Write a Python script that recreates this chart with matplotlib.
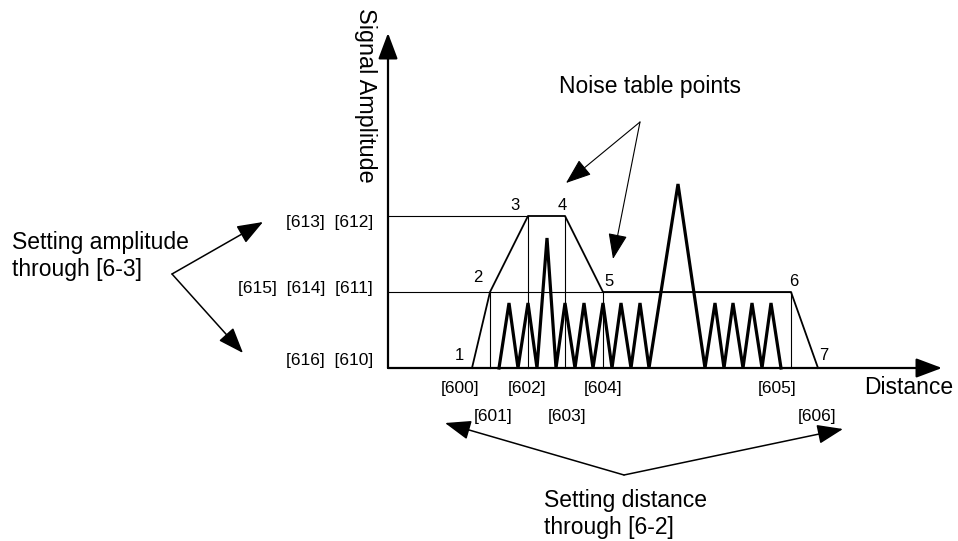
import matplotlib
matplotlib.use('Agg')
import matplotlib.pyplot as plt

plt.rcParams['font.family'] = ['Liberation Sans', 'DejaVu Sans']

# trapezoid (setting points 1..7): distance, amplitude
pt_labels = ['1', '2', '3', '4', '5', '6', '7']
pt_dist = [84, 102, 140, 177, 215, 403, 430]
pt_amp = [0, 76, 152, 152, 76, 76, 0]

# noise signal zigzag
noise_dist = [111, 121, 130, 140, 149, 159, 168, 177, 187, 196, 205, 215, 224, 233,
              243, 252, 261, 290, 317, 327, 336, 345, 355, 364, 374, 383, 393]
noise_amp = [0, 65, 0, 65, 0, 130, 0, 65, 0, 65, 0, 65, 0, 65,
             0, 65, 0, 184, 0, 65, 0, 65, 0, 65, 0, 65, 0]

amp_labels = ['[616]  [610]', '[615]  [614]  [611]', '[613]  [612]']
amp_levels = [0, 76, 152]
dist_labels_top = ['[600]', '[602]', '[604]', '[605]']
dist_top_x = [72, 139, 215, 389]
dist_labels_bot = ['[601]', '[603]', '[606]']
dist_bot_x = [105, 179, 429]

fig = plt.figure(figsize=(9.58, 5.41), dpi=100)
ax = fig.add_axes([0, 0, 1, 1])
ax.set_xlim(-388, 570)
ax.set_ylim(-173, 368)
ax.axis('off')

head = '-|>,head_length=0.8,head_width=0.3'

# axes with arrows
ax.annotate('', xy=(554, 0), xytext=(0, 0),
            arrowprops=dict(arrowstyle=head, mutation_scale=20, lw=1.6, color='black',
                            shrinkA=0, shrinkB=0))
ax.annotate('', xy=(0, 335), xytext=(0, 0),
            arrowprops=dict(arrowstyle=head, mutation_scale=20, lw=1.6, color='black',
                            shrinkA=0, shrinkB=0))

# guide lines
ax.plot([0, pt_dist[2]], [amp_levels[2], amp_levels[2]], color='black', lw=0.8)
ax.plot([0, pt_dist[5]], [amp_levels[1], amp_levels[1]], color='black', lw=0.8)
for i in [1, 2, 3, 4, 5]:
    ax.plot([pt_dist[i], pt_dist[i]], [0, pt_amp[i]], color='black', lw=0.8)

# trapezoid
ax.plot(pt_dist, pt_amp, color='black', lw=1.3)
# noise
ax.plot(noise_dist, noise_amp, color='black', lw=2.3, solid_joinstyle='miter')

# point numbers
num_off = [(-13, 12), (-12, 14), (-13, 11), (-3, 11), (6, 10), (3, 11), (6, 13)]
for lab, x, y, o in zip(pt_labels, pt_dist, pt_amp, num_off):
    ax.text(x + o[0], y + o[1], lab, fontsize=12, ha='center', va='center')

# amplitude labels
for lab, y, dy in zip(amp_labels, amp_levels, [8, 3, -6]):
    ax.text(-15, y + dy, lab, fontsize=12.5, ha='right', va='center')

# distance labels
for lab, x in zip(dist_labels_top, dist_top_x):
    ax.text(x, -20, lab, fontsize=12.5, ha='center', va='center')
for lab, x in zip(dist_labels_bot, dist_bot_x):
    ax.text(x, -49, lab, fontsize=12.5, ha='center', va='center')

ax.text(-23, 273, 'Signal Amplitude', fontsize=16.8, rotation=270, ha='center', va='center')
ax.text(521, -19, 'Distance', fontsize=16.5, ha='center', va='center')
ax.text(262, 281, 'Noise table points', fontsize=16.5, ha='center', va='center')
ax.text(-376, 112, 'Setting amplitude\nthrough [6-3]', fontsize=16.5, ha='left', va='center')
ax.text(156, -146, 'Setting distance\nthrough [6-2]', fontsize=16.5, ha='left', va='center')

thin = dict(arrowstyle=head, mutation_scale=20, lw=1.1, color='black', shrinkA=0, shrinkB=0)
# amplitude arrows
ax.annotate('', xy=(-125, 146), xytext=(-216, 94), arrowprops=thin)
ax.annotate('', xy=(-145, 15), xytext=(-216, 94), arrowprops=thin)
# noise arrows
ax.annotate('', xy=(178, 185), xytext=(252, 246), arrowprops=dict(thin, lw=0.8))
ax.annotate('', xy=(225, 109), xytext=(252, 246), arrowprops=dict(thin, lw=0.8))
# distance arrows
ax.annotate('', xy=(57, -55), xytext=(236, -107), arrowprops=thin)
ax.annotate('', xy=(455, -61), xytext=(236, -107), arrowprops=thin)

fig.savefig('out.png', dpi=100)
